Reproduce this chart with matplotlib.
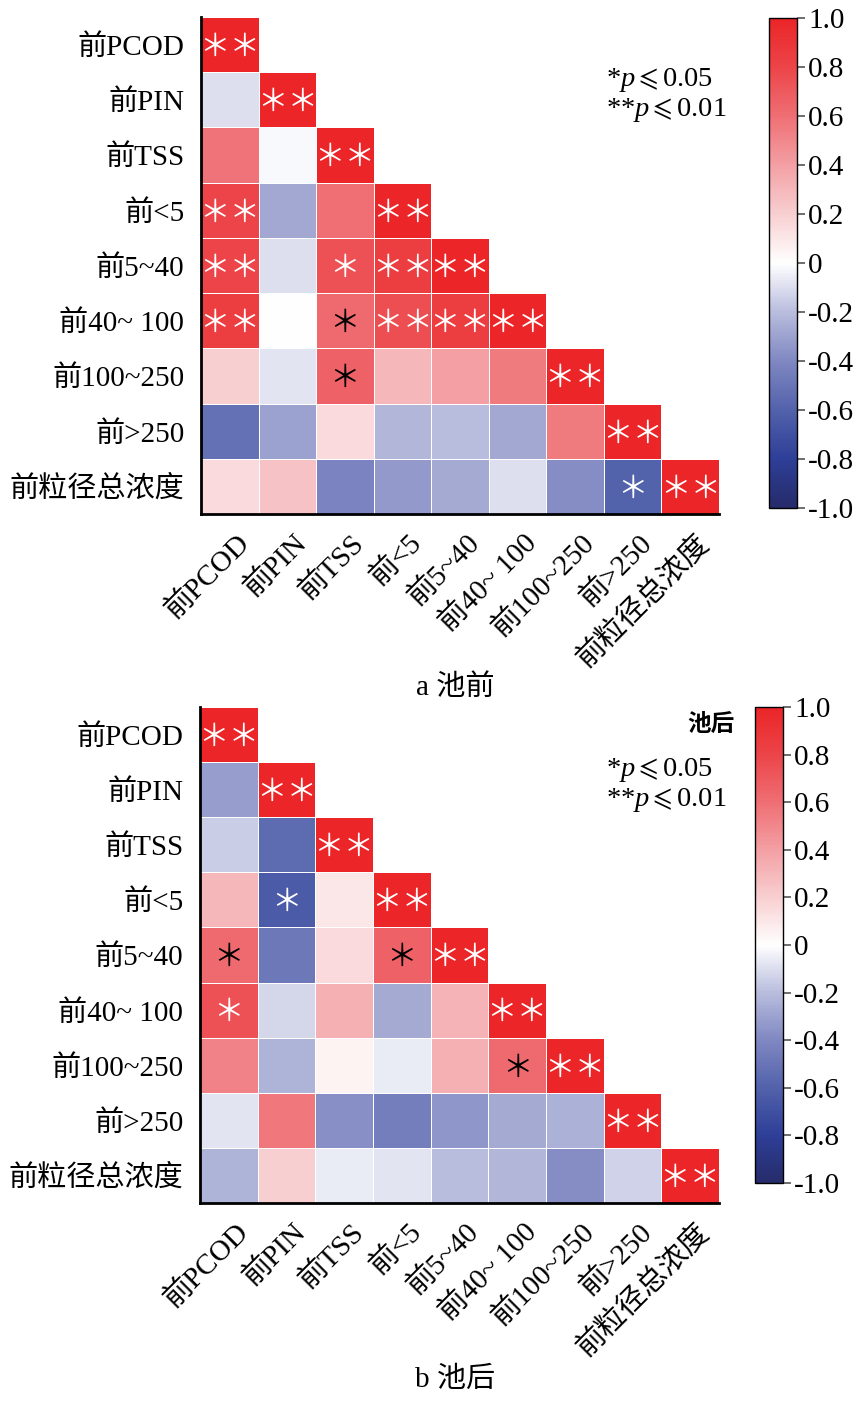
import numpy as np
import matplotlib
matplotlib.use('Agg')
import matplotlib.pyplot as plt
from matplotlib.colors import LinearSegmentedColormap

plt.rcParams['font.family'] = ['Liberation Serif', 'Noto Sans CJK SC', 'DejaVu Sans']
plt.rcParams['mathtext.fontset'] = 'custom'
plt.rcParams['mathtext.it'] = 'Liberation Serif:italic'
plt.rcParams['mathtext.rm'] = 'Liberation Serif'
plt.rcParams['mathtext.fallback'] = 'stix'

labels = ['前PCOD', '前PIN', '前TSS', '前<5', '前5~40', '前40~ 100',
          '前100~250', '前>250', '前粒径总浓度']

# lower triangle of correlation matrix, 池前
corr_a = [
    [1.00],
    [-0.10, 1.00],
    [0.58, -0.02, 1.00],
    [0.80, -0.28, 0.60, 1.00],
    [0.80, -0.10, 0.74, 0.85, 1.00],
    [0.85, 0.00, 0.62, 0.75, 0.85, 1.00],
    [0.20, -0.08, 0.66, 0.30, 0.40, 0.55, 1.00],
    [-0.52, -0.30, 0.15, -0.22, -0.20, -0.28, 0.55, 1.00],
    [0.15, 0.25, -0.42, -0.33, -0.27, -0.10, -0.38, -0.60, 1.00],
]
sig_a = [
    ['**'],
    ['', '**'],
    ['', '', '**'],
    ['**', '', '', '**'],
    ['**', '', '*', '**', '**'],
    ['**', '', '*', '**', '**', '**'],
    ['', '', '*', '', '', '', '**'],
    ['', '', '', '', '', '', '', '**'],
    ['', '', '', '', '', '', '', '*', '**'],
]

# 池后
corr_b = [
    [1.00],
    [-0.32, 1.00],
    [-0.15, -0.55, 1.00],
    [0.30, -0.64, 0.10, 1.00],
    [0.62, -0.48, 0.15, 0.66, 1.00],
    [0.74, -0.12, 0.33, -0.27, 0.32, 1.00],
    [0.52, -0.24, 0.05, -0.06, 0.33, 0.62, 1.00],
    [-0.08, 0.57, -0.37, -0.45, -0.35, -0.27, -0.25, 1.00],
    [-0.24, 0.20, -0.06, -0.08, -0.20, -0.22, -0.38, -0.14, 1.00],
]
sig_b = [
    ['**'],
    ['', '**'],
    ['', '', '**'],
    ['', '*', '', '**'],
    ['*', '', '', '*', '**'],
    ['*', '', '', '', '', '**'],
    ['', '', '', '', '', '*', '**'],
    ['', '', '', '', '', '', '', '**'],
    ['', '', '', '', '', '', '', '', '**'],
]

cbar_ticks = [1.0, 0.8, 0.6, 0.4, 0.2, 0, -0.2, -0.4, -0.6, -0.8, -1.0]
cbar_labels = ['1.0', '0.8', '0.6', '0.4', '0.2', '0', '-0.2', '-0.4', '-0.6', '-0.8', '-1.0']

cmap = LinearSegmentedColormap.from_list('bwr2', [
    (0.0, '#262c6a'), (0.1, '#2e3f98'), (0.2, '#5262ab'), (0.3, '#8088c2'),
    (0.4, '#b9bddd'), (0.5, '#ffffff'), (0.6, '#f8cfd1'), (0.7, '#f3a0a4'),
    (0.8, '#ef6f74'), (0.9, '#ec4549'), (1.0, '#eb2528')])

W, H = 865, 1409
fig = plt.figure(figsize=(W / 100, H / 100), dpi=100)


def to_matrix(tri):
    n = len(tri)
    m = np.full((n, n), np.nan)
    for i, row in enumerate(tri):
        for j, v in enumerate(row):
            m[i, j] = v
    return np.ma.masked_invalid(m)


def star_color(v):
    r, g, b, _ = cmap((v + 1) / 2)
    lum = 0.299 * r + 0.587 * g + 0.114 * b
    return 'white' if lum < 0.52 else 'black'


def draw_panel(box, cbox, corr, sig, title, title_y, legend_xy, extra=None):
    ax = fig.add_axes([box[0] / W, 1 - box[3] / H, (box[2] - box[0]) / W, (box[3] - box[1]) / H])
    m = to_matrix(corr)
    n = len(labels)
    mesh = ax.pcolormesh(np.arange(n + 1), np.arange(n + 1), m, cmap=cmap, vmin=-1, vmax=1,
                         edgecolor='white', linewidth=0.4)
    ax.set_xlim(0, n)
    ax.set_ylim(n, 0)
    for s in ['top', 'right']:
        ax.spines[s].set_visible(False)
    for s in ['left', 'bottom']:
        ax.spines[s].set_linewidth(2)
    ax.set_yticks(np.arange(n) + 0.5)
    ax.set_yticklabels(labels, fontsize=21)
    ax.set_xticks([])
    # rotated x labels, placed by hand so the end sits right of the cell centre
    for j, lab in enumerate(labels):
        ax.annotate(lab, xy=(j + 0.5, 0), xycoords=('data', 'axes fraction'),
                    xytext=(11, -18), textcoords='offset points', fontsize=21,
                    rotation=45, ha='right', va='center', rotation_mode='anchor')
    ax.tick_params(axis='both', length=0)
    ax.tick_params(axis='y', pad=12)
    for i, row in enumerate(sig):
        for j, s in enumerate(row):
            if s:
                ax.text(j + 0.5, i + 0.55, '＊' * len(s), ha='center', va='center',
                        fontsize=22, color=star_color(corr[i][j]), family='Noto Sans CJK SC')

    cax = fig.add_axes([cbox[0] / W, 1 - cbox[3] / H, (cbox[2] - cbox[0]) / W, (cbox[3] - cbox[1]) / H])
    cb = fig.colorbar(mesh, cax=cax, ticks=cbar_ticks)
    cb.ax.set_yticklabels(cbar_labels, fontsize=21)
    cb.ax.tick_params(length=6, width=1.2, color='#555555', pad=2)
    cb.outline.set_linewidth(1)

    fig.text(455 / W, 1 - title_y / H, title, ha='center', va='center', fontsize=21)
    lx, ly = legend_xy
    if extra:
        fig.text(735 / W, 1 - (ly - 45) / H, extra, ha='right', va='center', fontsize=17,
                 fontweight='bold')
    fig.text(lx / W, 1 - ly / H, r'*$p\leqslant$0.05', ha='left', va='center', fontsize=20.5)
    fig.text(lx / W, 1 - (ly + 30) / H, r'**$p\leqslant$0.01', ha='left', va='center', fontsize=20.5)


draw_panel((201, 17, 719, 514), (769, 18, 797, 508), corr_a, sig_a, 'a 池前', 688, (606, 80))
draw_panel((200, 707, 719, 1203), (755, 707, 783, 1183), corr_b, sig_b, 'b 池后', 1380,
           (606, 770), extra='池后')

fig.savefig('out.png', dpi=100)
